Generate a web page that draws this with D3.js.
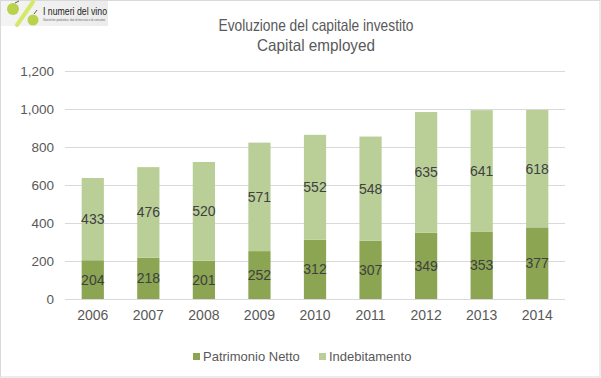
<!DOCTYPE html>
<html><head><meta charset="utf-8">
<script src="https://cdn.jsdelivr.net/npm/d3@7"></script>
<style>
body{margin:0;background:#fff;}
svg{display:block;}
</style></head>
<body>
<svg id="chart" width="601" height="378"></svg>
<script>
const years = ["2006","2007","2008","2009","2010","2011","2012","2013","2014"];
const patrimonioNetto = [204,218,201,252,312,307,349,353,377];
const indebitamento = [433,476,520,571,552,548,635,641,618];
const yTicks = [0,200,400,600,800,1000,1200];
const seriesNames = ["Patrimonio Netto","Indebitamento"];
const titleLines = ["Evoluzione del capitale investito","Capital employed"];

const colors = ["#8ba552","#bacf98"];
const svg = d3.select("#chart");
const W = 601, H = 378;

// border
svg.append("rect").attr("x",0.5).attr("y",0.5).attr("width",W-1.5).attr("height",H-1.5)
  .attr("fill","#fff").attr("stroke","#d9d9d9");

// logo
const logo = svg.append("g");
const grad = svg.append("defs").append("linearGradient").attr("id","lg").attr("x1",0).attr("x2",1);
grad.append("stop").attr("offset","0%").attr("stop-color","#f4f4f4");
grad.append("stop").attr("offset","100%").attr("stop-color","#ececec");
logo.append("rect").attr("x",1).attr("y",1).attr("width",107).attr("height",25).attr("fill","url(#lg)");
logo.append("line").attr("x1",33).attr("y1",2).attr("x2",17).attr("y2",25)
  .attr("stroke","#d6e86a").attr("stroke-width",4).attr("stroke-linecap","round");
logo.append("circle").attr("cx",13).attr("cy",9).attr("r",6).attr("fill","#b9d24e");
logo.append("circle").attr("cx",33).attr("cy",20).attr("r",5.5).attr("fill","#b9d24e");
logo.append("line").attr("x1",34).attr("y1",14).attr("x2",37).attr("y2",10).attr("stroke","#6b5a3a").attr("stroke-width",1);
logo.append("line").attr("x1",15).attr("y1",3).attr("x2",19).attr("y2",1).attr("stroke","#6b5a3a").attr("stroke-width",1);
logo.append("text").attr("x",43).attr("y",15).attr("font-family","Liberation Sans, Arial")
  .attr("font-size",11.5).attr("fill","#222").attr("textLength",64).attr("lengthAdjust","spacingAndGlyphs")
  .text("I numeri del vino");
logo.append("text").attr("x",43).attr("y",20.5).attr("font-family","Liberation Sans, Arial")
  .attr("font-size",2.6).attr("fill","#666").attr("textLength",62).attr("lengthAdjust","spacingAndGlyphs")
  .text("Statistiche produttive, dati di mercato e di consumo");

// title
const titleLens = [195,118];
svg.append("g").selectAll("text").data(titleLines).join("text")
  .attr("x",316).attr("y",(d,i)=>31+i*20).attr("text-anchor","middle")
  .attr("font-family","Liberation Sans, Arial").attr("font-size",16.5).attr("fill","#595959")
  .attr("textLength",(d,i)=>titleLens[i]).attr("lengthAdjust","spacingAndGlyphs")
  .text(d=>d);

const x = d3.scaleBand().domain(years).range([65,565]).paddingInner(0.6).paddingOuter(0.3);
const y = d3.scaleLinear().domain([0,1200]).range([299,71]);

// gridlines
svg.append("g").selectAll("line").data(yTicks).join("line")
  .attr("x1",65).attr("x2",565).attr("y1",d=>y(d)+0.5).attr("y2",d=>y(d)+0.5)
  .attr("stroke","#d9d9d9").attr("stroke-width",1);

// y axis
const yAxis = svg.append("g").attr("transform","translate(60,0)")
  .call(d3.axisLeft(y).tickValues(yTicks).tickSize(0).tickPadding(6).tickFormat(d3.format(",")));
yAxis.select(".domain").remove();
yAxis.selectAll("text").attr("font-family","Liberation Sans, Arial").attr("font-size",13.5).attr("fill","#595959");

// x axis
const xAxis = svg.append("g").attr("transform","translate(0,299)")
  .call(d3.axisBottom(x).tickSize(0).tickPadding(11));
xAxis.select(".domain").remove();
xAxis.selectAll("text").attr("font-family","Liberation Sans, Arial").attr("font-size",14).attr("fill","#595959");

// stacked data
const table = years.map((yr,i)=>({year:yr, "Patrimonio Netto":patrimonioNetto[i], "Indebitamento":indebitamento[i]}));
const stack = d3.stack().keys(seriesNames)(table);

const groups = svg.append("g").selectAll("g").data(stack).join("g").attr("fill",(d,i)=>colors[i]);
groups.selectAll("rect").data(d=>d).join("rect")
  .attr("x",d=>x(d.data.year)).attr("width",x.bandwidth())
  .attr("y",d=>y(d[1])).attr("height",d=>y(d[0])-y(d[1]));

// labels
const lg = svg.append("g").attr("font-family","Liberation Sans, Arial").attr("font-size",14)
  .attr("fill","#404040").attr("text-anchor","middle");
stack.forEach(s=>{
  lg.selectAll(null).data(s).join("text")
    .attr("x",d=>x(d.data.year)+x.bandwidth()/2)
    .attr("y",d=>y((d[0]+d[1])/2)+5)
    .text(d=>d[1]-d[0]);
});

// legend
const legend = svg.append("g").attr("font-family","Liberation Sans, Arial").attr("font-size",13).attr("fill","#595959");
const legX = [193,319];
seriesNames.forEach((n,i)=>{
  legend.append("rect").attr("x",legX[i]).attr("y",353).attr("width",7).attr("height",7).attr("fill",colors[i]);
  legend.append("text").attr("x",legX[i]+10).attr("y",361).text(n);
});
</script>
</body></html>
